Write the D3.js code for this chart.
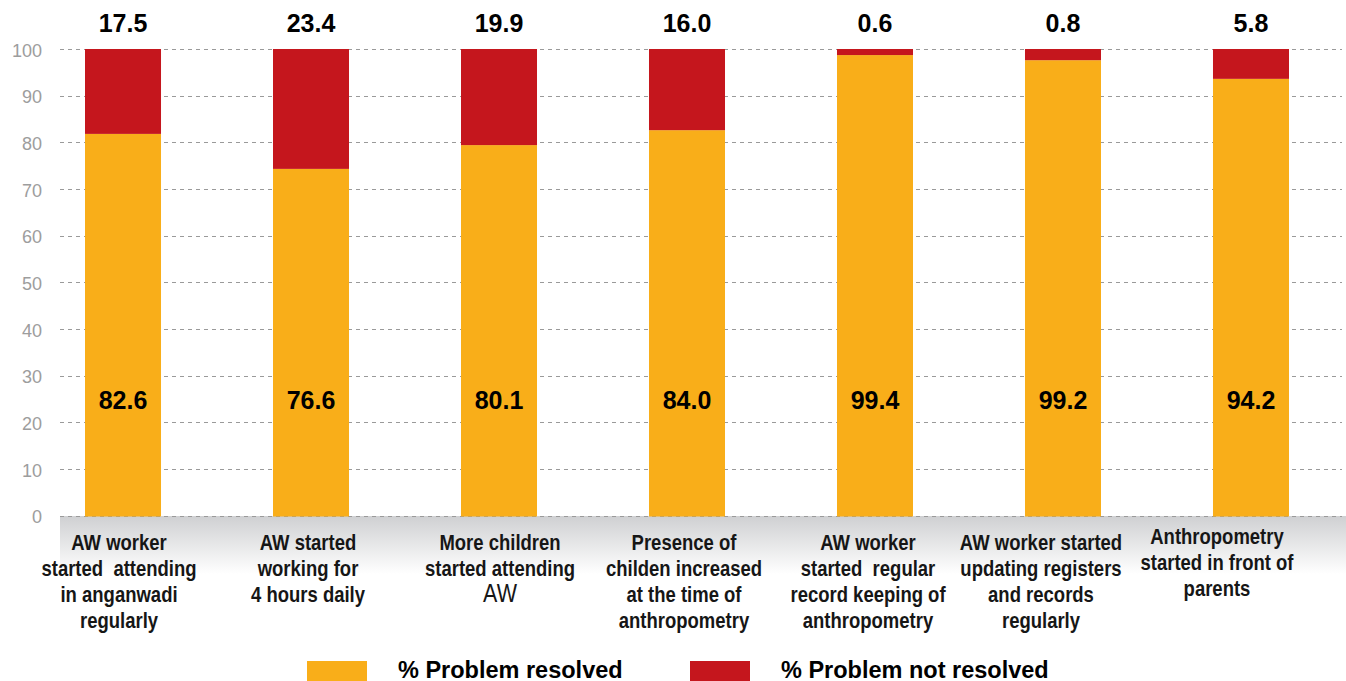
<!DOCTYPE html>
<html><head><meta charset="utf-8">
<script src="https://cdn.jsdelivr.net/npm/d3@7"></script>
<style>html,body{margin:0;padding:0;background:#fff;overflow:hidden}</style>
</head><body><svg id="c" width="1346" height="681"></svg>
<script>
// ---- data ----
const categories = [
  "AW worker\nstarted  attending\nin anganwadi\nregularly",
  "AW started\nworking for\n4 hours daily",
  "More children\nstarted attending\nAW",
  "Presence of\nchilden increased\nat the time of\nanthropometry",
  "AW worker\nstarted  regular\nrecord keeping of\nanthropometry",
  "AW worker started\nupdating registers\nand records\nregularly",
  "Anthropometry\nstarted in front of\nparents"
];
// printed value labels
const resolvedLabels    = [82.6, 76.6, 80.1, 84.0, 99.4, 99.2, 94.2];
const notResolvedLabels = [17.5, 23.4, 19.9, 16.0, 0.6, 0.8, 5.8];
// bar heights as drawn in the picture
const resolvedBars    = [81.8, 74.3, 79.4, 82.6, 98.7, 97.6, 93.6];
const notResolvedBars = [18.2, 25.7, 20.6, 17.4, 1.3, 2.4, 6.4];
const yTicks = [0, 10, 20, 30, 40, 50, 60, 70, 80, 90, 100];
const seriesNames = ["% Problem resolved", "% Problem not resolved"];

// ---- layout / style ----
const W = 1346, H = 681;
const colors = ["#F9AE19", "#C5161D"];
const labelDx = [-4, -3, 1, -3, -7, -22, -34];
const labelDy = [0, 0, 0, 0, 0, 0, -6];
const plainLastLine = [false, false, true, false, false, false, false];

const svg = d3.select("#c");
const x = d3.scaleBand().domain(d3.range(categories.length))
  .range([29, 1345]).paddingInner(0.5957).paddingOuter(0.2979);
const y = d3.scaleLinear().domain([0, 100]).range([515.5, 49]);

// gradient band under axis
const defs = svg.append("defs");
const g = defs.append("linearGradient").attr("id", "band").attr("x1", 0).attr("y1", 0).attr("x2", 0).attr("y2", 1);
g.append("stop").attr("offset", "0%").attr("stop-color", "#cfd0d2");
g.append("stop").attr("offset", "100%").attr("stop-color", "#ffffff");
svg.append("rect").attr("x", 60).attr("y", 516).attr("width", W - 60).attr("height", 58).attr("fill", "url(#band)");

// gridlines
svg.append("g").selectAll("line").data(yTicks).join("line")
  .attr("x1", 60).attr("x2", 1342)
  .attr("y1", d => Math.round(y(d)) + 0.5).attr("y2", d => Math.round(y(d)) + 0.5)
  .attr("stroke", "#9a9a9a").attr("stroke-width", 1).attr("stroke-dasharray", "4,4");

// y axis labels
const yAxis = d3.axisLeft(y).tickValues(yTicks).tickSize(0).tickPadding(0);
const ya = svg.append("g").attr("transform", "translate(42,0)").call(yAxis);
ya.select(".domain").remove();
ya.selectAll("text").attr("fill", "#9d9d9d").style("font-family", "Liberation Sans, Arial, sans-serif")
  .style("font-size", "18px").attr("dy", "0.4em");

// stacked bars
const table = categories.map((c, i) => ({ i, resolved: resolvedBars[i], notResolved: notResolvedBars[i] }));
const stack = d3.stack().keys(["resolved", "notResolved"])(table);
svg.append("g").selectAll("g").data(stack).join("g").attr("fill", (d, k) => colors[k])
  .selectAll("rect").data(d => d).join("rect")
  .attr("x", d => x(d.data.i))
  .attr("width", x.bandwidth())
  .attr("y", d => y(d[1]))
  .attr("height", d => y(d[0]) - y(d[1]) + (d[0] === 0 ? 1 : 0));

// value labels
const valFont = "Liberation Sans, Arial, sans-serif";
svg.append("g").selectAll("text").data(resolvedLabels).join("text")
  .attr("x", (d, i) => x(i) + x.bandwidth() / 2).attr("y", 409)
  .attr("text-anchor", "middle").style("font-family", valFont).style("font-weight", "bold")
  .style("font-size", "25px").attr("fill", "#000").text(d => d.toFixed(1));
svg.append("g").selectAll("text").data(notResolvedLabels).join("text")
  .attr("x", (d, i) => x(i) + x.bandwidth() / 2).attr("y", 32)
  .attr("text-anchor", "middle").style("font-family", valFont).style("font-weight", "bold")
  .style("font-size", "25px").attr("fill", "#000").text(d => d.toFixed(1));

// category labels (condensed look via horizontal scale)
const catFont = "Liberation Sans, Arial, sans-serif";
const cl = svg.append("g").selectAll("text").data(categories).join("text")
  .attr("text-anchor", "middle")
  .attr("transform", (d, i) => `translate(${x(i) + x.bandwidth() / 2 + labelDx[i]},${550 + labelDy[i]}) scale(0.86,1)`)
  .style("font-family", catFont).style("font-weight", "bold").style("font-size", "21.5px")
  .style("white-space", "pre").attr("fill", "#161616");
cl.each(function (d, i) {
  const lines = d.split("\n");
  d3.select(this).selectAll("tspan").data(lines).join("tspan")
    .attr("x", 0).attr("y", (l, j) => j * 26)
    .style("font-weight", (l, j) => (plainLastLine[i] && j === lines.length - 1) ? "normal" : "bold")
    .style("font-size", (l, j) => (plainLastLine[i] && j === lines.length - 1) ? "25px" : null)
    .text(l => l);
});

// legend
const legX = [307, 690], legTX = [398, 781];
const lg = svg.append("g");
lg.selectAll("rect").data(seriesNames).join("rect")
  .attr("x", (d, i) => legX[i]).attr("y", 661).attr("width", 60).attr("height", 24)
  .attr("fill", (d, i) => colors[i]);
lg.selectAll("text").data(seriesNames).join("text")
  .attr("x", (d, i) => legTX[i]).attr("y", 678)
  .style("font-family", valFont).style("font-weight", "bold").style("font-size", "23.5px")
  .attr("fill", "#000").text(d => d);
</script></body></html>
